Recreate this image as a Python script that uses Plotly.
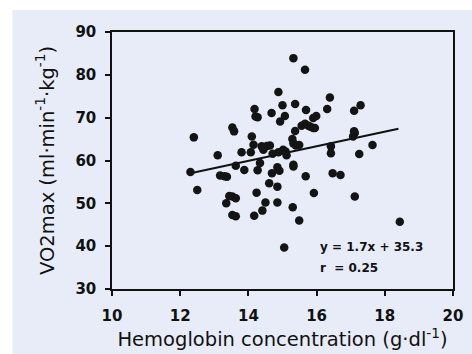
import plotly.graph_objects as go

hb = [12.4, 12.3, 12.5, 13.1, 13.17, 13.3, 13.37, 13.35, 13.44, 13.53, 13.63, 13.53, 13.63,
      13.53, 13.58, 13.63, 13.8, 13.88, 14.1, 14.07, 14.15, 14.18, 14.21, 14.27, 14.27, 14.34,
      14.24, 14.17, 14.39, 14.44, 14.54, 14.63, 14.5, 14.41, 14.61, 14.68, 14.71, 14.69, 14.88,
      14.88, 14.85, 14.91, 14.85, 14.85, 14.93, 15.0, 15.07, 15.02, 15.09, 15.12, 15.05, 15.32,
      15.37, 15.32, 15.32, 15.29, 15.32, 15.39, 15.49, 15.37, 15.3, 15.49, 15.66, 15.68, 15.69,
      15.56, 15.66, 15.76, 15.82, 15.9, 15.95, 15.9, 15.99, 15.92, 16.31, 16.39, 16.42, 16.42,
      16.47, 16.7, 17.07, 17.12, 17.1, 17.1, 17.29, 17.25, 17.12, 17.64, 18.44]
vo2 = [65.4, 57.3, 53.1, 61.2, 56.5, 56.3, 56.2, 50.0, 51.7, 51.6, 51.2, 47.3, 47.0,
       67.7, 66.8, 58.8, 61.9, 57.8, 65.6, 61.9, 63.7, 72.0, 70.3, 70.1, 57.7, 59.4,
       52.5, 47.1, 63.3, 62.5, 63.4, 63.5, 50.2, 48.3, 54.7, 71.1, 61.6, 57.0, 76.0,
       61.9, 58.4, 57.6, 53.9, 50.2, 69.1, 72.9, 70.4, 62.5, 62.1, 61.2, 39.7, 83.9,
       73.2, 59.0, 58.6, 65.0, 64.0, 63.5, 63.6, 66.9, 49.1, 46.0, 81.2, 56.3, 71.8,
       68.1, 68.6, 68.1, 67.9, 67.6, 67.6, 69.9, 70.4, 52.4, 72.0, 74.7, 63.3, 61.7,
       57.0, 56.6, 65.6, 66.4, 66.8, 71.6, 72.9, 61.5, 51.6, 63.6, 45.7]

fit_x = [12.3, 18.4]
fit_y = [57.0, 67.4]

eq_lines = ["y = 1.7x + 35.3", "r\u00a0\u00a0= 0.25"]
eq_x = [16.05, 16.05]
eq_y = [39.7, 35.0]

x_ticks = [10, 12, 14, 16, 18, 20]
y_ticks = [30, 40, 50, 60, 70, 80, 90]

font_family = "DejaVu Sans, Arial, sans-serif"

fig = go.Figure()
fig.add_trace(go.Scatter(x=fit_x, y=fit_y, mode="lines",
                         line=dict(color="#111111", width=2), showlegend=False))
fig.add_trace(go.Scatter(x=hb, y=vo2, mode="markers",
                         marker=dict(color="#141414", size=8.5, line=dict(width=0)),
                         showlegend=False))

for t, xx, yy in zip(eq_lines, eq_x, eq_y):
    fig.add_annotation(x=xx, y=yy, text="<b>" + t + "</b>", showarrow=False,
                       xanchor="left", yanchor="middle",
                       font=dict(family=font_family, size=12, color="#111111"))

fig.add_shape(type="rect", xref="paper", yref="paper",
              x0=-0.292, x1=1.06, y0=-0.26, y1=1.086,
              fillcolor="#e7ecf8", line=dict(width=0), layer="below")

fig.update_layout(
    width=472, height=354,
    margin=dict(l=112, r=19, t=32, b=65),
    paper_bgcolor="white",
    plot_bgcolor="rgba(0,0,0,0)",
    font=dict(family=font_family, color="#111111"),
    xaxis=dict(range=[10, 20], tickvals=x_ticks, ticktext=["<b>%d</b>" % v for v in x_ticks],
               ticks="outside", ticklen=5, tickwidth=1.5, tickcolor="#111111",
               ticklabelstandoff=7, automargin=False,
               showline=True, linecolor="#111111", linewidth=1.5, mirror=True,
               showgrid=False, zeroline=False,
               tickfont=dict(size=15, family=font_family),
               title=dict(text="Hemoglobin concentration (g·dl<sup>-1</sup>)",
                          font=dict(size=19.5, family=font_family), standoff=7)),
    yaxis=dict(range=[30, 90], tickvals=y_ticks, ticktext=["<b>%d</b>" % v for v in y_ticks],
               ticks="outside", ticklen=5, tickwidth=1.5, tickcolor="#111111",
               ticklabelstandoff=6, automargin=False,
               showline=True, linecolor="#111111", linewidth=1.5, mirror=True,
               showgrid=False, zeroline=False,
               tickfont=dict(size=15, family=font_family),
               title=dict(text="VO2max (ml·min<sup>-1</sup>·kg<sup>-1</sup>)",
                          font=dict(size=19.5, family=font_family), standoff=16)),
)

fig.write_html("out.html")
